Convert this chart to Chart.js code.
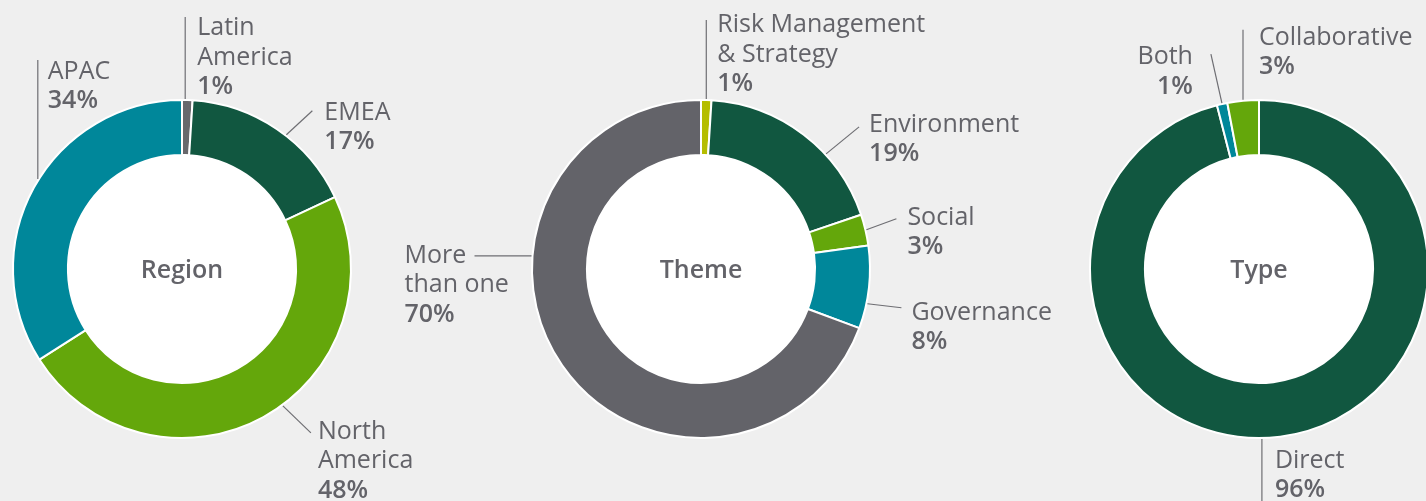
<!DOCTYPE html>
<html>
<head>
<meta charset="utf-8">
<script src="https://cdn.jsdelivr.net/npm/chart.js@4.4.0/dist/chart.umd.min.js"></script>
<style>
  html, body { margin: 0; padding: 0; background: #efefef; overflow: hidden; }
  .donut { position: absolute; left: 0; top: 0; width: 1426px; height: 501px; }
</style>
</head>
<body>
<div class="donut"><canvas id="chartRegion"></canvas></div>
<div class="donut"><canvas id="chartTheme"></canvas></div>
<div class="donut"><canvas id="chartType"></canvas></div>
<script>
  // ---------- data ----------
  const regionTitle = "Region";
  const regionLabels = [["Latin", "America"], ["EMEA"], ["North", "America"], ["APAC"]];
  const regionValues = [1, 17, 48, 34];
  const regionColors = ["#68686c", "#115740", "#64a70b", "#00879a"];

  const themeTitle = "Theme";
  const themeLabels = [["Risk Management", "& Strategy"], ["Environment"], ["Social"], ["Governance"], ["More", "than one"]];
  const themeValues = [1, 19, 3, 8, 70];
  const themeColors = ["#b5bd00", "#115740", "#64a70b", "#00879a", "#636369"];

  const typeTitle = "Type";
  const typeLabels = [["Direct"], ["Both"], ["Collaborative"]];
  const typeValues = [96, 1, 3];
  const typeColors = ["#115740", "#00879a", "#64a70b"];

  // ---------- callout layout (anchor = fraction along slice, leader vector, text offset from leader end) ----------
  const regionCallouts = [
    { at: 0.3, line: [0, -82], text: [12, 18] },
    { at: 0.56, line: [26, -24], text: [12, 9] },
    { at: 0.456, line: [28, 27], text: [7, 6] },
    { at: 0.526, line: [0, -119], text: [10, 19] }
  ];
  const themeCallouts = [
    { at: 0.5, line: [0, -79], text: [11, 12] },
    { at: 0.647, line: [33, -27], text: [10, 5] },
    { at: 0.5, line: [30, -11], text: [11, 6] },
    { at: 0.695, line: [34, 4], text: [10, 12] },
    { at: 0.657, line: [-57, 0], text: [-70, 7] }
  ];
  const typeCallouts = [
    { at: 0.518, line: [0, 62], text: [13, -33] },
    { at: 0.5, line: [-11, -49], text: [-18, 10], align: "right" },
    { at: 0.5, line: [0, -70], text: [16, 15] }
  ];

  const PAGE_W = 1426;
  const TEXT = "#636369";
  const FONT = "'Open Sans', 'Noto Sans', sans-serif";
  const LINE_H = 29.5;

  // white hole, centre title and leader-line labels
  const calloutPlugin = {
    id: "callouts",
    beforeDatasetsDraw(chart) {
      const arc = chart.getDatasetMeta(0).data[0];
      const ctx = chart.ctx;
      ctx.save();
      ctx.fillStyle = "#ffffff";
      ctx.beginPath();
      ctx.arc(arc.x, arc.y, arc.innerRadius, 0, Math.PI * 2);
      ctx.fill();
      ctx.restore();
    },
    afterDatasetsDraw(chart, args, opts) {
      const ctx = chart.ctx;
      const meta = chart.getDatasetMeta(0);
      const labels = chart.data.labels;
      const values = chart.data.datasets[0].data;
      const c0 = meta.data[0];

      ctx.save();
      ctx.fillStyle = TEXT;
      ctx.textAlign = "center";
      ctx.textBaseline = "alphabetic";
      ctx.font = `600 25px ${FONT}`;
      ctx.fillText(opts.title, c0.x, c0.y + 9);

      meta.data.forEach((arc, i) => {
        const co = opts.items[i];
        if (!co) return;
        const a = arc.startAngle + (arc.endAngle - arc.startAngle) * co.at;
        const r = arc.outerRadius + 1;
        const sx = arc.x + Math.cos(a) * r;
        const sy = arc.y + Math.sin(a) * r;
        const ex = sx + co.line[0];
        const ey = sy + co.line[1];

        ctx.strokeStyle = "#6e6e73";
        ctx.lineWidth = 1.2;
        ctx.beginPath();
        ctx.moveTo(sx, sy);
        ctx.lineTo(ex, ey);
        ctx.stroke();

        const tx = ex + co.text[0];
        let ty = ey + co.text[1];
        ctx.textAlign = co.align || "left";
        ctx.fillStyle = TEXT;
        ctx.font = `400 25px ${FONT}`;
        const lines = Array.isArray(labels[i]) ? labels[i] : [labels[i]];
        lines.forEach((ln) => {
          ctx.fillText(ln, tx, ty);
          ty += LINE_H;
        });
        ctx.font = `600 25px ${FONT}`;
        ctx.fillText(`${values[i]}%`, tx, ty);
      });
      ctx.restore();
    }
  };

  const makeDonut = (id, labels, values, colors, title, items, cx) => {
    return new Chart(document.getElementById(id), {
      type: "doughnut",
      data: {
        labels,
        datasets: [{
          data: values,
          backgroundColor: colors,
          borderColor: "#ffffff",
          borderWidth: 2
        }]
      },
      options: {
        responsive: true,
        maintainAspectRatio: false,
        animation: false,
        events: [],
        radius: 169,
        cutout: "67.5%",
        layout: {
          padding: {
            top: 37,
            bottom: 0,
            left: Math.max(0, 2 * cx - PAGE_W),
            right: Math.max(0, PAGE_W - 2 * cx)
          }
        },
        plugins: {
          legend: { display: false },
          tooltip: { enabled: false },
          callouts: { title, items }
        }
      },
      plugins: [calloutPlugin]
    });
  };

  makeDonut("chartRegion", regionLabels, regionValues, regionColors, regionTitle, regionCallouts, 182);
  makeDonut("chartTheme", themeLabels, themeValues, themeColors, themeTitle, themeCallouts, 701);
  makeDonut("chartType", typeLabels, typeValues, typeColors, typeTitle, typeCallouts, 1259);
</script>
</body>
</html>
